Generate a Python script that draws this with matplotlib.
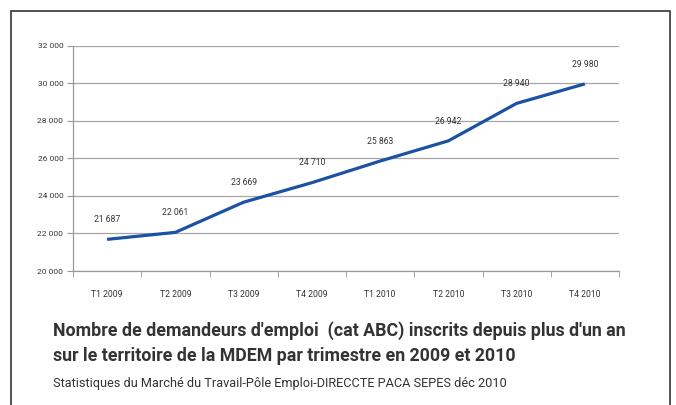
import matplotlib.pyplot as plt
from matplotlib.patches import Rectangle

# data
trimestres = ['T1 2009', 'T2 2009', 'T3 2009', 'T4 2009',
              'T1 2010', 'T2 2010', 'T3 2010', 'T4 2010']
demandeurs = [21687, 22061, 23669, 24710, 25863, 26942, 28940, 29980]
y_ticks = [20000, 22000, 24000, 26000, 28000, 30000, 32000]


def fr(n):
    # thousands separated by a space, french style
    return f'{n:,}'.replace(',', ' ')


plt.rcParams['font.family'] = ['Roboto', 'DejaVu Sans']

fig = plt.figure(figsize=(6.76, 4.05), dpi=100)
ax = fig.add_axes([73 / 676, 1 - 271 / 405, (619 - 73) / 676, (271 - 46) / 405])

x = list(range(len(trimestres)))
ax.plot(x, demandeurs, color='#1b52a3', lw=2.3, solid_capstyle='butt', zorder=3)
for xi, v in zip(x, demandeurs):
    ax.annotate(fr(v), (xi, v), xytext=(0, 11), textcoords='offset points',
                ha='center', va='bottom', fontsize=6.2, color='#333333')

ax.set_xlim(-0.5, len(trimestres) - 0.5)
ax.set_ylim(20000, 32000)
ax.set_yticks(y_ticks)
ax.set_yticklabels([fr(t) for t in y_ticks], fontsize=6, color='#333333')
ax.set_xticks(x)
ax.set_xticklabels(trimestres, fontsize=6.2, color='#333333')
ax.set_xticks([i - 0.5 for i in range(len(trimestres) + 1)], minor=True)
ax.tick_params(axis='x', which='major', length=0, pad=14)
ax.tick_params(axis='x', which='minor', length=4, color='#999999')
ax.tick_params(axis='y', length=4, color='#999999', pad=3)
ax.grid(axis='y', color='#a6a6a6', lw=0.9)
ax.set_axisbelow(True)
for s in ['top', 'right']:
    ax.spines[s].set_visible(False)
for s in ['left', 'bottom']:
    ax.spines[s].set_color('#999999')
    ax.spines[s].set_linewidth(0.9)

# outer frame
fig.patches.append(Rectangle((11 / 676, -0.05), (670 - 11) / 676, 1.05 - 11 / 405,
                             transform=fig.transFigure, fill=False,
                             edgecolor='#333333', lw=1.2))

fig.text(53 / 676, 1 - 331 / 405,
         "Nombre de demandeurs d'emploi  (cat ABC) inscrits depuis plus d'un an",
         fontsize=12.8, fontweight='bold', color='#333333', va='center')
fig.text(53 / 676, 1 - 356 / 405,
         "sur le territoire de la MDEM par trimestre en 2009 et 2010",
         fontsize=12.8, fontweight='bold', color='#333333', va='center')
fig.text(53 / 676, 1 - 383 / 405,
         "Statistiques du Marché du Travail-Pôle Emploi-DIRECCTE PACA SEPES déc 2010",
         fontsize=9.2, color='#333333', va='center')

fig.savefig('out.png', dpi=100)
